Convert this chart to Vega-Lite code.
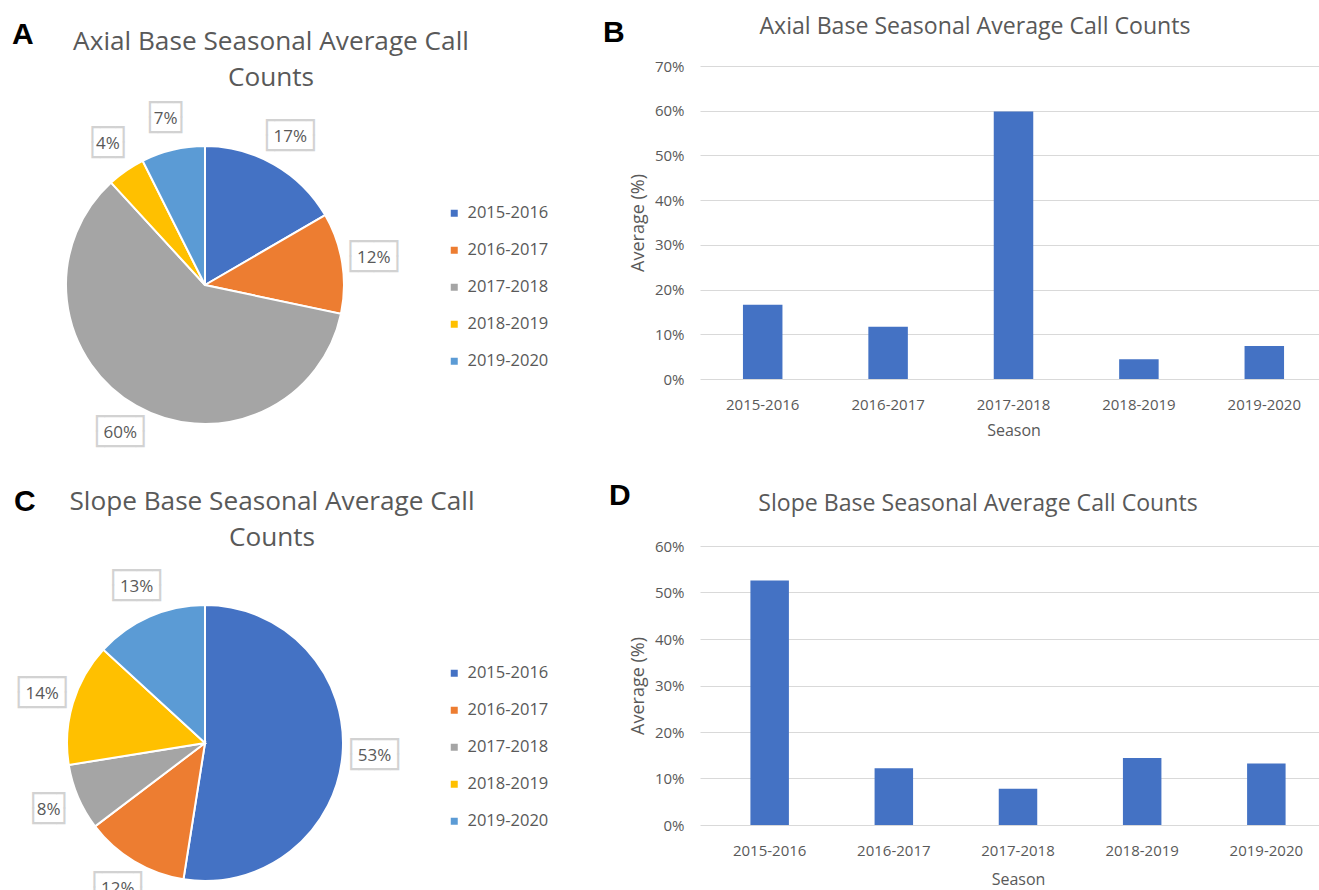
{
  "$schema": "https://vega.github.io/schema/vega-lite/v6.json",
  "padding": {"left": 0, "top": 16, "right": 0, "bottom": 0},
  "background": "white",
  "datasets": {
    "axial": [
      {"season": "2015-2016", "share": 0.166},
      {"season": "2016-2017", "share": 0.117},
      {"season": "2017-2018", "share": 0.598},
      {"season": "2018-2019", "share": 0.044},
      {"season": "2019-2020", "share": 0.074}
    ],
    "slope": [
      {"season": "2015-2016", "share": 0.526},
      {"season": "2016-2017", "share": 0.122},
      {"season": "2017-2018", "share": 0.078},
      {"season": "2018-2019", "share": 0.144},
      {"season": "2019-2020", "share": 0.132}
    ]
  },
  "config": {
    "view": {"stroke": null},
    "font": "Open Sans",
    "title": {
      "font": "Liberation Sans", "fontWeight": "bold", "fontSize": 30, "color": "#000000",
      "anchor": "start", "frame": "group",
      "subtitleFont": "Open Sans", "subtitleColor": "#595959", "subtitleFontWeight": "normal"
    },
    "axis": {
      "labelFont": "Open Sans", "labelColor": "#595959", "labelFontSize": 15,
      "titleFont": "Open Sans", "titleColor": "#595959", "titleFontSize": 16, "titleFontWeight": "normal",
      "ticks": false, "domain": false, "gridColor": "#d9d9d9", "gridWidth": 1
    },
    "legend": {
      "labelFont": "Open Sans", "labelColor": "#595959", "labelFontSize": 16.5,
      "symbolType": "square", "symbolSize": 49, "symbolStrokeWidth": 0,
      "rowPadding": 20, "labelOffset": 5, "padding": 0
    }
  },
  "columns": 2,
  "bounds": "flush",
  "align": "each",
  "spacing": {"row": 42, "column": 290},
  "resolve": {"scale": {"color": "independent", "x": "independent", "y": "independent", "theta": "independent"}, "legend": {"color": "independent"}},
  "concat": [
    {
      "width": 410,
      "height": 438,
      "title": {
        "text": "A", "dx": 12, "offset": -25,
        "subtitle": ["Axial Base Seasonal Average Call", "Counts"],
        "subtitleFontSize": 26.2, "subtitleLineHeight": 36, "subtitlePadding": -21,
        "encode": {"subtitle": {"update": {"align": {"value": "center"}, "dx": {"value": 271}}}}
      },
      "data": {"name": "axial"},
      "encoding": {
        "theta": {"field": "share", "type": "quantitative", "stack": true},
        "order": {"field": "season"},
        "color": {
          "field": "season", "type": "nominal",
          "scale": {"domain": ["2015-2016", "2016-2017", "2017-2018", "2018-2019", "2019-2020"], "range": ["#4472C4", "#ED7D31", "#A5A5A5", "#FFC000", "#5B9BD5"]},
          "legend": {"orient": "none", "legendX": 446, "legendY": 139, "title": null}
        }
      },
      "layer": [
        {"mark": {"type": "arc", "outerRadius": 139, "stroke": "white", "strokeWidth": 2}},
        {
          "mark": {"type": "text", "radius": 171, "font": "DejaVu Sans Mono", "fontSize": 26, "lineHeight": 30, "baseline": "middle", "dy": -16},
          "encoding": {
            "color": {"value": "#d2d2d2"},
            "text": {"condition": {"test": "datum.share < 0.095", "value": ["┌─┐", "└─┘"]}, "value": ["┌──┐", "└──┘"]}
          }
        },
        {
          "mark": {"type": "text", "radius": 171, "fontSize": 17, "font": "Open Sans", "baseline": "middle"},
          "encoding": {
            "color": {"value": "#595959"},
            "text": {"field": "share", "type": "quantitative", "format": ".0%"}
          }
        }
      ]
    },
    {
      "width": 627,
      "height": 313,
      "title": {
        "text": "B", "dx": -97, "offset": 9,
        "subtitle": "Axial Base Seasonal Average Call Counts",
        "subtitleFontSize": 23.1, "subtitlePadding": -32,
        "encode": {"subtitle": {"update": {"align": {"value": "center"}, "dx": {"value": 275}}}}
      },
      "data": {"name": "axial"},
      "mark": {"type": "bar", "color": "#4472C4"},
      "encoding": {
        "x": {
          "field": "season", "type": "nominal", "title": "Season",
          "scale": {"paddingInner": 0.685, "paddingOuter": 0.3425},
          "axis": {"labelAngle": 0, "labelPadding": 18, "titlePadding": 10}
        },
        "y": {
          "field": "share", "type": "quantitative", "title": "Average (%)",
          "scale": {"domain": [0, 0.7]},
          "axis": {"format": ".0%", "values": [0, 0.1, 0.2, 0.3, 0.4, 0.5, 0.6, 0.7], "labelPadding": 16, "titlePadding": 7, "titleFontSize": 18}
        }
      }
    },
    {
      "width": 410,
      "height": 394,
      "title": {
        "text": "C", "dx": 14, "offset": -5,
        "subtitle": ["Slope Base Seasonal Average Call", "Counts"],
        "subtitleFontSize": 26.2, "subtitleLineHeight": 36, "subtitlePadding": -28,
        "encode": {"subtitle": {"update": {"align": {"value": "center"}, "dx": {"value": 272}}}}
      },
      "data": {"name": "slope"},
      "encoding": {
        "theta": {"field": "share", "type": "quantitative", "stack": true},
        "order": {"field": "season"},
        "color": {
          "field": "season", "type": "nominal",
          "scale": {"domain": ["2015-2016", "2016-2017", "2017-2018", "2018-2019", "2019-2020"], "range": ["#4472C4", "#ED7D31", "#A5A5A5", "#FFC000", "#5B9BD5"]},
          "legend": {"orient": "none", "legendX": 446, "legendY": 119, "title": null}
        }
      },
      "layer": [
        {"mark": {"type": "arc", "outerRadius": 138, "stroke": "white", "strokeWidth": 2}},
        {
          "mark": {"type": "text", "radius": 170, "font": "DejaVu Sans Mono", "fontSize": 26, "lineHeight": 30, "baseline": "middle", "dy": -16},
          "encoding": {
            "color": {"value": "#d2d2d2"},
            "text": {"condition": {"test": "datum.share < 0.095", "value": ["┌─┐", "└─┘"]}, "value": ["┌──┐", "└──┘"]}
          }
        },
        {
          "mark": {"type": "text", "radius": 170, "fontSize": 17, "font": "Open Sans", "baseline": "middle"},
          "encoding": {
            "color": {"value": "#595959"},
            "text": {"field": "share", "type": "quantitative", "format": ".0%"}
          }
        }
      ]
    },
    {
      "width": 636,
      "height": 279,
      "title": {
        "text": "D", "dx": -91, "offset": 23,
        "subtitle": "Slope Base Seasonal Average Call Counts",
        "subtitleFontSize": 23.1, "subtitlePadding": -18,
        "encode": {"subtitle": {"update": {"align": {"value": "center"}, "dx": {"value": 278}}}}
      },
      "data": {"name": "slope"},
      "mark": {"type": "bar", "color": "#4472C4"},
      "encoding": {
        "x": {
          "field": "season", "type": "nominal", "title": "Season",
          "scale": {"paddingInner": 0.69, "paddingOuter": 0.406},
          "axis": {"labelAngle": 0, "labelPadding": 18, "titlePadding": 13}
        },
        "y": {
          "field": "share", "type": "quantitative", "title": "Average (%)",
          "scale": {"domain": [0, 0.6]},
          "axis": {"format": ".0%", "values": [0, 0.1, 0.2, 0.3, 0.4, 0.5, 0.6], "labelPadding": 16, "titlePadding": 7, "titleFontSize": 18}
        }
      }
    }
  ]
}
